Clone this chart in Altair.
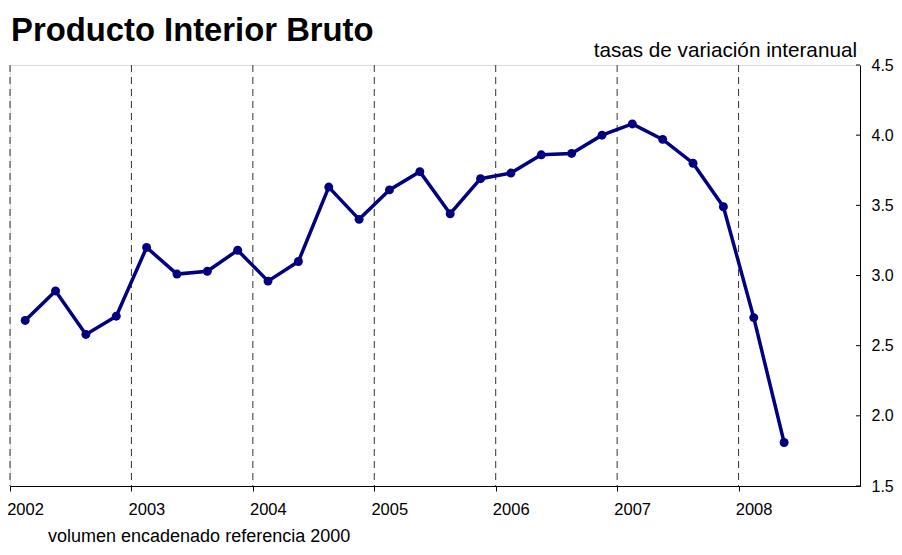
import altair as alt
import pandas as pd

# ---- data ----
anio = [2002] * 4 + [2003] * 4 + [2004] * 4 + [2005] * 4 + [2006] * 4 + [2007] * 4 + [2008] * 2
trimestre = [1, 2, 3, 4] * 6 + [1, 2]
pib = [2.68, 2.89, 2.58, 2.71,
       3.20, 3.01, 3.03, 3.18,
       2.96, 3.10, 3.63, 3.40,
       3.61, 3.74, 3.44, 3.69,
       3.73, 3.86, 3.87, 4.00,
       4.08, 3.97, 3.80, 3.49,
       2.70, 1.81]
anios_eje = [2002, 2003, 2004, 2005, 2006, 2007, 2008]
y_ticks = [1.5, 2.0, 2.5, 3.0, 3.5, 4.0, 4.5]

titulo = "Producto Interior Bruto"
subtitulo = "tasas de variación interanual"
nota = "volumen encadenado referencia 2000"

FONT = "Liberation Sans"
W, H = 850, 421
NAVY = "#000080"

df = pd.DataFrame({"anio": anio, "trimestre": trimestre, "pib": pib})
df_years = pd.DataFrame({"anio": anios_eje})
df_yt = pd.DataFrame({"v": y_ticks})

xscale = alt.Scale(domain=[2002, 2009], nice=False, zero=False)
yscale = alt.Scale(domain=[1.5, 4.5], nice=False, zero=False)

xaxis = alt.Axis(values=anios_eje, format="d", title=None, grid=False,
                 labelOffset=15, tickSize=5, tickColor="black", domainColor="black",
                 labelFont=FONT, labelFontSize=16.5, labelColor="black", labelPadding=10,
                 labelFlush=False)
yaxis = alt.Axis(orient="right", values=y_ticks, format=".1f", title=None, grid=False,
                 ticks=False, tickSize=0, labelPadding=11, domainColor="black",
                 labelFont=FONT, labelFontSize=16, labelColor="black")

base = alt.Chart(df).transform_calculate(t="datum.anio + (datum.trimestre - 0.5) / 4")

rules = alt.Chart(df_years).mark_rule(color="#333333", strokeDash=[7, 5], strokeWidth=1).encode(
    x=alt.X("anio:Q", scale=xscale, axis=xaxis)
)

line = base.mark_line(color=NAVY, strokeWidth=3.5).encode(
    x=alt.X("t:Q", scale=xscale, axis=xaxis),
    y=alt.Y("pib:Q", scale=yscale, axis=yaxis),
)
pts = base.mark_point(filled=True, color=NAVY, size=80, opacity=1).encode(
    x=alt.X("t:Q", scale=xscale),
    y=alt.Y("pib:Q", scale=yscale),
)

yticks_in = alt.Chart(df_yt).mark_rule(color="black", strokeWidth=1).encode(
    y=alt.Y("v:Q", scale=yscale),
    x=alt.value(W - 4),
    x2=alt.value(W),
)

t_title = alt.Chart(pd.DataFrame({"s": [titulo]})).mark_text(
    font=FONT, fontSize=32.8, fontWeight="bold", align="left", baseline="alphabetic", color="black"
).encode(text="s:N", x=alt.value(1), y=alt.value(-24.5))

t_sub = alt.Chart(pd.DataFrame({"s": [subtitulo]})).mark_text(
    font=FONT, fontSize=20.7, align="right", baseline="alphabetic", color="black"
).encode(text="s:N", x=alt.value(847), y=alt.value(-8))

t_nota = alt.Chart(pd.DataFrame({"s": [nota]})).mark_text(
    font=FONT, fontSize=18, align="left", baseline="alphabetic", color="black"
).encode(text="s:N", x=alt.value(38), y=alt.value(H + 56))

chart = alt.layer(rules, line, pts, yticks_in, t_title, t_sub, t_nota).properties(
    width=W, height=H,
    autosize=alt.AutoSizeParams(type="none"),
    padding={"left": 2, "top": 57, "right": 34, "bottom": 61},
).configure_view(stroke=None).configure(background="white")

chart.save("out.html", embed_options={"renderer": "svg", "actions": False})
